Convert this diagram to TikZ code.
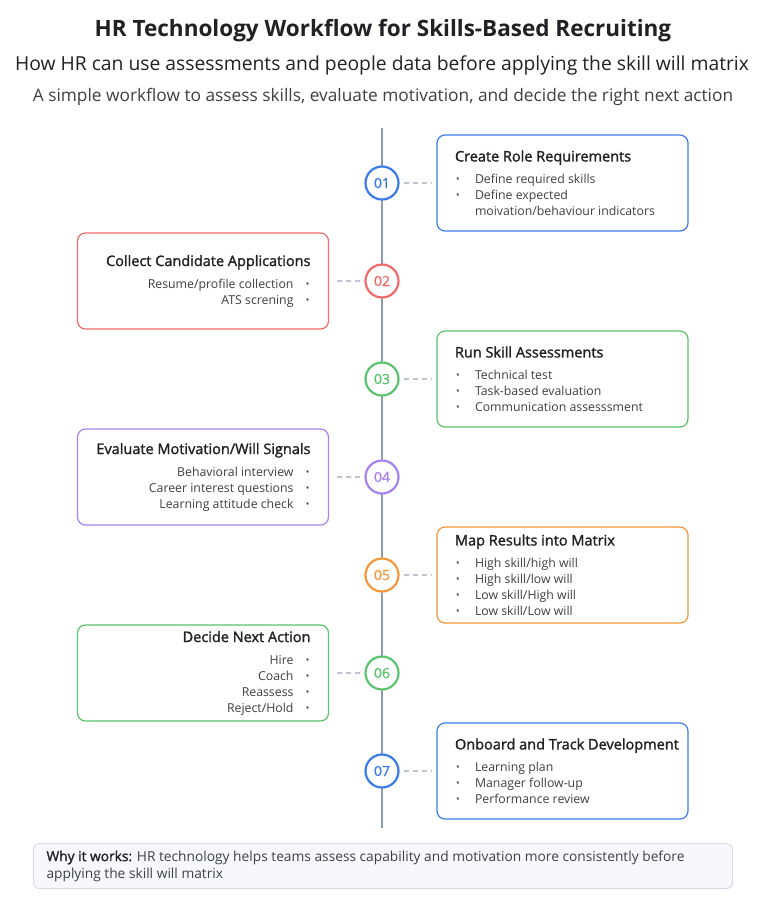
\documentclass[tikz,border=0pt]{standalone}
\usepackage{fontspec}
\setmainfont{Open Sans}
\newfontfamily\medfont{Open Sans}[FakeBold=1.6]
\newfontfamily\numfont{Open Sans}[FakeBold=1.0]
\definecolor{cblue}{HTML}{3B7BEA}
\definecolor{cred}{HTML}{F06B6B}
\definecolor{cgreen}{HTML}{5CC46E}
\definecolor{cpurple}{HTML}{A683F0}
\definecolor{corange}{HTML}{F5973A}
\definecolor{tdark}{HTML}{202124}
\definecolor{tbody}{HTML}{3C4043}
\definecolor{vline}{HTML}{8C9BB5}
\definecolor{dline}{HTML}{BAC4D3}
\definecolor{notefill}{HTML}{F7F8FB}
\definecolor{notedraw}{HTML}{D6DCE6}
\newcommand\cardtitle[1]{{\fontsize{14.5}{16}\selectfont\medfont\color{tdark}#1\par}\vspace{6pt}}
\newcommand\bul{\raisebox{0.6pt}{\fontsize{9.5}{9.5}\selectfont\textbullet}}
\newcommand\ritem[1]{\hangindent=20pt\hangafter=1\noindent\makebox[20pt][l]{\hspace{1pt}\bul}#1\par}
\newcommand\litem[1]{#1\makebox[17pt][r]{\bul\hspace{1pt}}\par}
\newcommand\rcontent[2]{\hspace*{18pt}\parbox{233pt}{\raggedright\fontsize{12.3}{16}\selectfont\cardtitle{#1}#2}}
\newcommand\lcontent[2]{\parbox{233pt}{\raggedleft\fontsize{12.3}{16}\selectfont\cardtitle{#1}#2}\hspace*{18pt}}
\tikzset{
  stepcard/.style={draw=#1, line width=1.2pt, rounded corners=8pt, fill=white,
    minimum width=251pt, minimum height=96pt, inner sep=0pt, text=tbody},
  numcirc/.style={circle, draw=#1, line width=2.2pt, fill=white, minimum size=33pt,
    inner sep=0pt, text=#1, font=\fontsize{14}{14}\selectfont\numfont},
  link/.style={dline, line width=1.3pt, dash pattern=on 5pt off 4pt, shorten <=4pt, shorten >=5pt},
  spine/.style={vline, line width=1.2pt},
}
\begin{document}
\begin{tikzpicture}[x=1pt,y=-1pt]
\useasboundingbox[fill=white] (0,0) rectangle (765,900);
% headings
\node[anchor=base, text=tdark, font=\fontsize{22.5}{26}\selectfont\bfseries] (title) at (383,36) {HR Technology Workflow for Skills-Based Recruiting};
\node[anchor=base, text=tdark, font=\fontsize{19.3}{22}\selectfont] (sub) at (382,70) {How HR can use assessments and people data before applying the skill will matrix};
\node[anchor=base, text=tbody, font=\fontsize{17.3}{20}\selectfont] (sub2) at (383,101) {A simple workflow to assess skills, evaluate motivation, and decide the right next action};
% spine
\coordinate (top) at (382,128);
\coordinate (bot) at (382,828);
\draw[spine] (top) -- (bot);
% circles
\node[numcirc=cblue] (c1) at (382,183) {01};
\node[numcirc=cred] (c2) at (382,281) {02};
\node[numcirc=cgreen] (c3) at (382,379) {03};
\node[numcirc=cpurple] (c4) at (382,477) {04};
\node[numcirc=corange] (c5) at (382,575) {05};
\node[numcirc=cgreen] (c6) at (382,673) {06};
\node[numcirc=cblue] (c7) at (382,771) {07};
% cards
\node[stepcard=cblue] (k1) at (562.5,183) {\rcontent{Create Role Requirements}{\ritem{Define required skills}\ritem{Define expected\newline moivation/behaviour indicators}}};
\node[stepcard=cred] (k2) at (203,281) {\lcontent{Collect Candidate Applications}{\litem{Resume/profile collection}\litem{ATS screning}}};
\node[stepcard=cgreen] (k3) at (562.5,379) {\rcontent{Run Skill Assessments}{\ritem{Technical test}\ritem{Task-based evaluation}\ritem{Communication assesssment}}};
\node[stepcard=cpurple] (k4) at (203,477) {\lcontent{Evaluate Motivation/Will Signals}{\litem{Behavioral interview}\litem{Career interest questions}\litem{Learning attitude check}}};
\node[stepcard=corange] (k5) at (562.5,575) {\rcontent{Map Results into Matrix}{\ritem{High skill/high will}\ritem{High skill/low will}\ritem{Low skill/High will}\ritem{Low skill/Low will}}};
\node[stepcard=cgreen] (k6) at (203,673) {\lcontent{Decide Next Action}{\litem{Hire}\litem{Coach}\litem{Reassess}\litem{Reject/Hold}}};
\node[stepcard=cblue] (k7) at (562.5,771) {\rcontent{Onboard and Track Development}{\ritem{Learning plan}\ritem{Manager follow-up}\ritem{Performance review}}};
% connectors
\draw[link] (c1) -- (k1);
\draw[link] (c2) -- (k2);
\draw[link] (c3) -- (k3);
\draw[link] (c4) -- (k4);
\draw[link] (c5) -- (k5);
\draw[link] (c6) -- (k6);
\draw[link] (c7) -- (k7);
% note
\node[draw=notedraw, fill=notefill, line width=1pt, rounded corners=6pt, anchor=north west,
  minimum width=699pt, minimum height=45pt, inner sep=0pt, text=tbody] (note) at (33,843)
  {\parbox{673pt}{\raggedright\fontsize{13.75}{17}\selectfont{\medfont\color{tdark}Why it works:} HR technology helps teams assess capability and motivation more consistently before\newline applying the skill will matrix}};
\end{tikzpicture}
\end{document}
